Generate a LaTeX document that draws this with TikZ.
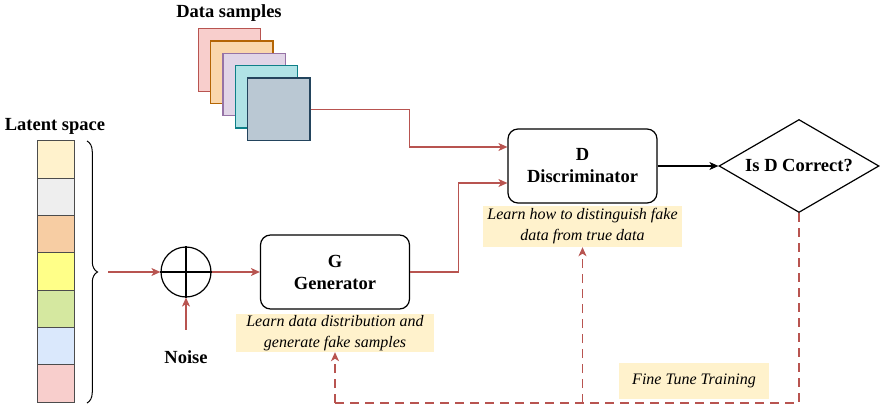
\documentclass[tikz,border=0pt]{standalone}
\usepackage{fontspec}
\setmainfont{Liberation Serif}
\usetikzlibrary{arrows.meta,shapes.geometric,decorations.pathreplacing,positioning}

\definecolor{linkred}{HTML}{B85450}
\definecolor{notefill}{HTML}{FFF2CC}
\definecolor{latA}{HTML}{FFF2CC}
\definecolor{latB}{HTML}{EEEEEE}
\definecolor{latC}{HTML}{F7CDA3}
\definecolor{latD}{HTML}{FFFF88}
\definecolor{latE}{HTML}{D5E8A0}
\definecolor{latF}{HTML}{DAE8FC}
\definecolor{latG}{HTML}{F8CECC}
\definecolor{dsfA}{HTML}{F8CECC}\definecolor{dsdA}{HTML}{B85450}
\definecolor{dsfB}{HTML}{FAD7AC}\definecolor{dsdB}{HTML}{B46504}
\definecolor{dsfC}{HTML}{E1D5E7}\definecolor{dsdC}{HTML}{9673A6}
\definecolor{dsfD}{HTML}{B0E3E6}\definecolor{dsdD}{HTML}{0E8088}
\definecolor{dsfE}{HTML}{BAC8D3}\definecolor{dsdE}{HTML}{23445D}

\begin{document}
\begin{tikzpicture}[x=1pt,y=-1pt,
  bigtxt/.style={font=\bfseries\fontsize{18.5}{22}\selectfont},
  notetxt/.style={font=\itshape\fontsize{16}{21}\selectfont},
  box/.style={draw,rounded corners=10pt,line width=1.2pt,minimum width=149,minimum height=74,align=center,bigtxt},
  note/.style={fill=notefill,align=center,inner sep=0pt,notetxt},
  link/.style={draw=linkred,line width=1.2pt,-{Stealth[length=9pt,width=8pt,inset=2.5pt]}},
  fb/.style={draw=linkred,line width=1.2pt,dash pattern=on 9pt off 6pt}]
\useasboundingbox (0,0) rectangle (880,406);

%Shape: Latent column
\foreach \c [count=\i] in {latA,latB,latC,latD,latE,latF,latG}
  \node [draw=black!70,line width=1pt,fill=\c,minimum width=37,minimum height=37.3,inner sep=0pt] (lat\i) at (55.5,{141+37.3*(\i-0.5)}) {};
% Text Node
\node [bigtxt] (latlbl) at (55,126) {Latent space};
%Shape: Brace
\draw [line width=1pt,decorate,decoration={brace,amplitude=10.5pt}] (87,141) -- (87,403);
\coordinate (bracetip) at (108,272);

%Shape: Data samples
\foreach \k [count=\i] in {A,B,C,D,E}
  \node [draw=dsd\k,fill=dsf\k,line width=1.3pt,minimum size=62.5,inner sep=0pt] (ds\i) at ({229.5+12.3*(\i-1)},{60+12.3*(\i-1)}) {};
% Text Node
\node [bigtxt] (dslbl) at (229,13) {Data samples};

%Shape: Sum
\node [draw,circle,line width=1.2pt,minimum size=50,inner sep=0pt] (sum) at (186,272) {};
\draw [line width=1.2pt] (sum.north) -- (sum.south) (sum.west) -- (sum.east);
% Text Node
\node [bigtxt] (noise) at (186,357) {Noise};

%Shape: Generator
\node [box] (gen) at (335,272) {G\\Generator};
\node [note,minimum width=198,minimum height=38] (gnote) at (335,333) {Learn data distribution and\\generate fake samples};

%Shape: Discriminator
\node [box] (disc) at (582.5,166) {D\\Discriminator};
\node [note,minimum width=199,minimum height=41] (dnote) at (582.5,226.5) {Learn how to distinguish fake\\data from true data};

%Shape: Decision
\node [draw,diamond,aspect=1.72,line width=1.2pt,minimum width=160,minimum height=93,inner sep=0pt,bigtxt] (check) at (799,166) {Is D Correct?};

% Text Node
\node [note,minimum width=150,minimum height=36] (ftnote) at (694,381) {Fine Tune Training};

%Straight Lines
\draw [link] (bracetip) -- (sum.west);
\draw [link] ([yshift=17pt]noise.north) -- (sum.south);
\draw [link] (sum.east) -- (gen.west);
\draw [link] (ds5.east) -- ++(99,0) |- ([yshift=19pt]disc.west);
\draw [link] (gen.east) -- ++(48,0) |- ([yshift=-17pt]disc.west);
\draw [line width=1.2pt,-{Stealth[length=9pt,width=8pt,inset=2.5pt]}] (disc.east) -- (check.west);

%Dashed Lines
\coordinate (fbase) at (0,403);
\draw [fb] (check.south) -- (check.south |- fbase) -| (gen.south |- fbase);
\draw [fb,-{Stealth[length=9pt,width=8pt,inset=2.5pt]}] (gnote.south |- fbase) -- (gnote.south);
\draw [fb,-{Stealth[length=9pt,width=8pt,inset=2.5pt]}] (dnote.south |- fbase) -- (dnote.south);

\end{tikzpicture}
\end{document}
